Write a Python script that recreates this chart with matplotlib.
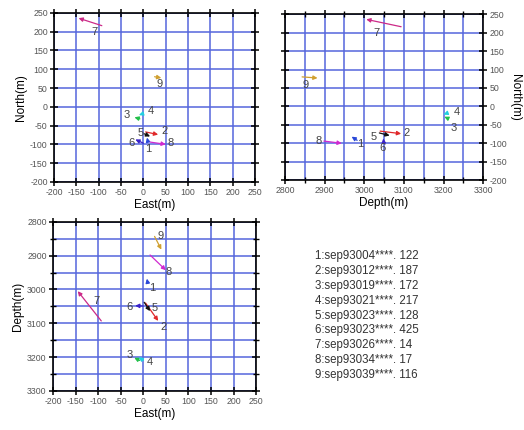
import matplotlib
matplotlib.use("Agg")
import matplotlib.pyplot as plt
from matplotlib.ticker import MultipleLocator

# event numbers and colours
event_ids = [1, 2, 3, 4, 5, 6, 7, 8, 9]
colors = ['#2a48d8', '#e0282a', '#22c04a', '#22d0e0', '#111111',
          '#3a22c8', '#cc2a88', '#d02ad0', '#d0a030']

# vector tail / head for each event (East, North, Depth in metres)
east_tail = [10, 5, -8, 0, 2, 0, -93, 15, 25]
east_head = [8, 33, -20, -10, 15, -18, -145, 50, 40]
north_tail = [-92, -67, -32, -18, -72, -97, 216, -94, 80]
north_head = [-82, -74, -28, -22, -79, -87, 236, -100, 77]
depth_tail = [2982, 3040, 3210, 3210, 3038, 3049, 3093, 2898, 2843]
depth_head = [2968, 3093, 3202, 3200, 3064, 3048, 3005, 2943, 2882]

# where the event numbers are written in each view
lab_east_north = [(11, -113), (47, -65), (-37, -22), (17, -11), (-7, -70),
                  (-26, -96), (-110, 200), (62, -96), (36, 62)]
lab_depth_north = [(2989, -102), (3107, -73), (3225, -59), (3233, -14), (3024, -82),
                   (3046, -114), (3032, 200), (2885, -94), (2851, 59)]
lab_east_depth = [(19, 2996), (44, 3112), (-31, 3194), (14, 3214), (26, 3055),
                  (-30, 3053), (-104, 3033), (56, 2947), (38, 2843)]

# file names listed beside the plots
file_names = ['sep93004****. 122', 'sep93012****. 187', 'sep93019****. 172',
              'sep93021****. 217', 'sep93023****. 128', 'sep93023****. 425',
              'sep93026****. 14', 'sep93034****. 17', 'sep93039****. 116']

plt.rcParams['font.family'] = ['Liberation Sans', 'DejaVu Sans']
plt.rcParams['axes.unicode_minus'] = False

grid_col = '#5566dd'
label_col = '#444444'

fig = plt.figure(figsize=(5.24, 4.30), dpi=100)
ax1 = fig.add_axes([0.103, 0.577, 0.384, 0.393])
ax2 = fig.add_axes([0.544, 0.581, 0.378, 0.386])
ax3 = fig.add_axes([0.101, 0.091, 0.388, 0.393])


def style_axes(ax, major_x, major_y):
    ax.xaxis.set_major_locator(MultipleLocator(major_x))
    ax.yaxis.set_major_locator(MultipleLocator(major_y))
    ax.xaxis.set_minor_locator(MultipleLocator(50))
    ax.yaxis.set_minor_locator(MultipleLocator(50))
    ax.grid(True, which='both', color=grid_col, lw=1.1)
    ax.set_axisbelow(True)
    ax.tick_params(which='major', direction='inout', length=6, width=1.1,
                   top=True, right=True, labelsize=6.3, labelcolor='#555555', pad=1.5)
    ax.tick_params(which='minor', direction='inout', length=4, width=1.0,
                   top=True, right=True)
    for s in ax.spines.values():
        s.set_linewidth(1.2)


def draw_vectors(ax, xt, yt, xh, yh, labels):
    for i in range(len(event_ids)):
        ax.annotate('', xy=(xh[i], yh[i]), xytext=(xt[i], yt[i]),
                    arrowprops=dict(arrowstyle='-|>', color=colors[i], lw=0.9,
                                    mutation_scale=6, shrinkA=0, shrinkB=0))
        ax.text(labels[i][0], labels[i][1], str(event_ids[i]), fontsize=8,
                color=label_col, ha='center', va='center')


# East / North
draw_vectors(ax1, east_tail, north_tail, east_head, north_head, lab_east_north)
ax1.set_xlim(-200, 250)
ax1.set_ylim(-200, 250)
style_axes(ax1, 50, 50)
ax1.set_xlabel('East(m)', fontsize=8.5, labelpad=1)
ax1.set_ylabel('North(m)', fontsize=8.5, labelpad=2)

# Depth / North
draw_vectors(ax2, depth_tail, north_tail, depth_head, north_head, lab_depth_north)
ax2.set_xlim(2800, 3300)
ax2.set_ylim(-200, 250)
style_axes(ax2, 100, 50)
ax2.yaxis.tick_right()
ax2.tick_params(which='both', left=True)
ax2.yaxis.set_label_position('right')
ax2.set_xlabel('Depth(m)', fontsize=8.5, labelpad=1)
ax2.set_ylabel('North(m)', fontsize=8.5, rotation=270, labelpad=10)

# East / Depth
draw_vectors(ax3, east_tail, depth_tail, east_head, depth_head, lab_east_depth)
ax3.set_xlim(-200, 250)
ax3.set_ylim(3300, 2800)
style_axes(ax3, 50, 100)
ax3.set_xlabel('East(m)', fontsize=8.5, labelpad=1)
ax3.set_ylabel('Depth(m)', fontsize=8.5, labelpad=2)

# list of files
for i, name in enumerate(file_names):
    fig.text(0.601, 0.405 - i * 0.0347, '%d:%s' % (event_ids[i], name),
             fontsize=8.3, color='#333333', va='center', ha='left')

fig.savefig('out.png', dpi=100)
